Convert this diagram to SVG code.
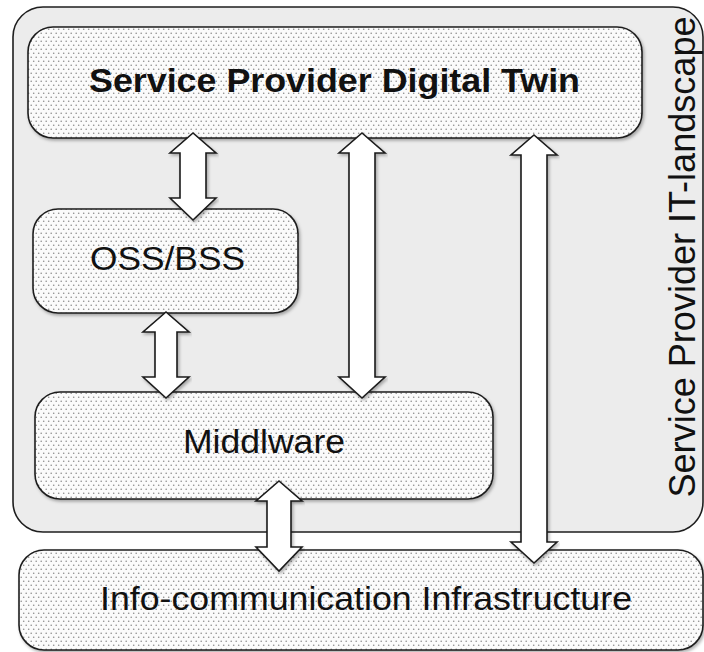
<svg xmlns="http://www.w3.org/2000/svg" width="704" height="652" viewBox="0 0 704 652">
  <defs>
    <pattern id="dots" width="5" height="8" patternUnits="userSpaceOnUse">
      <rect width="5" height="8" fill="#fbfbfb"/>
      <circle cx="1.2" cy="1.2" r="0.8" fill="#8c8c8c"/>
      <circle cx="3.7" cy="5.2" r="0.8" fill="#8c8c8c"/>
    </pattern>
    <filter id="shadow" x="-5%" y="-5%" width="110%" height="115%">
      <feDropShadow dx="1.5" dy="2" stdDeviation="1.5" flood-color="#000" flood-opacity="0.3"/>
    </filter>
  </defs>
  <style>
    .frame { fill: #ececec; stroke: #1e1e1e; stroke-width: 1.6; }
    .box { fill: url(#dots); stroke: #1e1e1e; stroke-width: 1.6; filter: url(#shadow); }
    .arrow { fill: #ffffff; stroke: #1a1a1a; stroke-width: 1.6; stroke-linejoin: miter; filter: url(#shadow); }
    .label { font-family: "Liberation Sans", Arial, sans-serif; font-size: 34px; fill: #111; text-anchor: middle; }
    .bold { font-weight: bold; }
  </style>

  <rect width="704" height="652" fill="#ffffff"/>

  <!-- IT landscape frame -->
  <g id="it-landscape">
    <rect class="frame" x="13" y="7" width="690" height="525" rx="30" ry="30"/>
    <text class="label" transform="translate(695,257) rotate(-90)" textLength="481" lengthAdjust="spacingAndGlyphs" style="font-size:37px">Service Provider IT-landscape</text>
  </g>

  <g id="digital-twin">
    <rect class="box" x="28" y="27" width="614" height="111" rx="25" ry="25"/>
    <text class="label bold" x="334.5" y="92" textLength="491" lengthAdjust="spacingAndGlyphs">Service Provider Digital Twin</text>
  </g>

  <g id="oss-bss">
    <rect class="box" x="33" y="209" width="265" height="104" rx="25" ry="25"/>
    <text class="label" x="167.5" y="270" textLength="155" lengthAdjust="spacingAndGlyphs">OSS/BSS</text>
  </g>

  <g id="middleware">
    <rect class="box" x="35" y="392" width="458" height="107" rx="25" ry="25"/>
    <text class="label" x="264" y="453" textLength="162" lengthAdjust="spacingAndGlyphs">Middlware</text>
  </g>

  <g id="infrastructure">
    <rect class="box" x="19" y="550" width="684" height="100" rx="25" ry="25"/>
    <text class="label" x="366" y="610" textLength="532" lengthAdjust="spacingAndGlyphs">Info-communication Infrastructure</text>
  </g>

  <!-- double-headed block arrows -->
  <g id="connectors">
    <!-- twin <-> OSS/BSS -->
    <path class="arrow" d="M193,133 L216,153 L206,153 L206,198 L216,198 L193,220 L170,198 L180,198 L180,153 L170,153 Z"/>
    <!-- OSS/BSS <-> middleware -->
    <path class="arrow" d="M166,312 L189,332 L177,332 L177,377 L189,377 L166,398 L143,377 L155,377 L155,332 L143,332 Z"/>
    <!-- twin <-> middleware -->
    <path class="arrow" d="M362,133 L385,153 L375,153 L375,377 L385,377 L362,398 L339,377 L349,377 L349,153 L339,153 Z"/>
    <!-- middleware <-> infrastructure -->
    <path class="arrow" d="M279,481 L302,501 L291,501 L291,547 L302,547 L279,571 L256,547 L267,547 L267,501 L256,501 Z"/>
    <!-- twin <-> infrastructure -->
    <path class="arrow" d="M534,135 L557,155 L547,155 L547,542 L557,542 L534,563 L511,542 L521,542 L521,155 L511,155 Z"/>
  </g>
</svg>
